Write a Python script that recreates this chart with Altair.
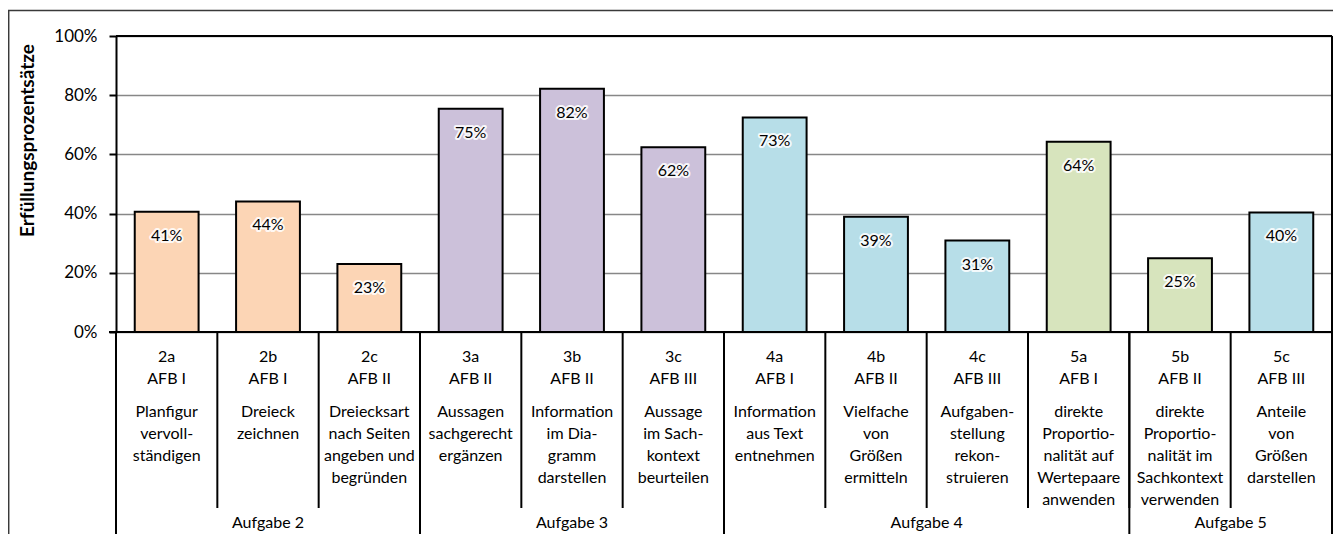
import altair as alt
import pandas as pd

# ---- data ----
codes = ["2a", "2b", "2c", "3a", "3b", "3c", "4a", "4b", "4c", "5a", "5b", "5c"]
afb = ["AFB I", "AFB I", "AFB II", "AFB II", "AFB II", "AFB III",
       "AFB I", "AFB II", "AFB III", "AFB I", "AFB II", "AFB III"]
beschreibung = [
    "Planfigur\nvervoll-\nständigen",
    "Dreieck\nzeichnen",
    "Dreiecksart\nnach Seiten\nangeben und\nbegründen",
    "Aussagen\nsachgerecht\nergänzen",
    "Information\nim Dia-\ngramm\ndarstellen",
    "Aussage\nim Sach-\nkontext\nbeurteilen",
    "Information\naus Text\nentnehmen",
    "Vielfache\nvon\nGrößen\nermitteln",
    "Aufgaben-\nstellung\nrekon-\nstruieren",
    "direkte\nProportio-\nnalität auf\nWertepaare\nanwenden",
    "direkte\nProportio-\nnalität im\nSachkontext\nverwenden",
    "Anteile\nvon\nGrößen\ndarstellen",
]
werte = [0.406, 0.441, 0.230, 0.754, 0.822, 0.624, 0.725, 0.389, 0.309, 0.643, 0.249, 0.404]
farbklasse = ["A", "A", "A", "B", "B", "B", "C", "C", "C", "D", "D", "C"]
farb_domain = ["A", "B", "C", "D"]
farb_range = ["#FCD5B5", "#CCC1DA", "#B7DEE8", "#D7E4BD"]

aufgaben = ["Aufgabe 2", "Aufgabe 3", "Aufgabe 4", "Aufgabe 5"]
aufgabe_start = [0, 3, 6, 10]
aufgabe_ende = [3, 6, 10, 12]

y_ticks = [0, 0.2, 0.4, 0.6, 0.8, 1.0]

# ---- tables ----
df = pd.DataFrame({
    "i": list(range(len(codes))),
    "code": codes,
    "afb": afb,
    "beschreibung": beschreibung,
    "wert": werte,
    "farbe": farbklasse,
})
df["kopf"] = df["code"] + "\n" + df["afb"]

grp = pd.DataFrame({"aufgabe": aufgaben, "start": aufgabe_start, "ende": aufgabe_ende})
grenzen = pd.DataFrame({"g": aufgabe_start + [aufgabe_ende[-1]]})
kat_grenzen = pd.DataFrame({"k": list(range(1, len(codes)))})
one = pd.DataFrame({"a": [0]})

W, H = 1216, 296
LEFT, TOP, RIGHT, BOTTOM = 108, 28, 1, 202
FONT = "Lato"
FS = 16

xscale = alt.Scale(domain=[0, len(codes)], nice=False, zero=False)
yscale = alt.Scale(domain=[0, 1], nice=False)

base = alt.Chart(df).transform_calculate(
    x0="datum.i + 0.185", x1="datum.i + 0.815", xm="datum.i + 0.5"
)

bars = base.mark_bar(stroke="black", strokeWidth=2).encode(
    x=alt.X("x0:Q", scale=xscale, axis=None),
    x2="x1:Q",
    y=alt.Y("wert:Q", scale=yscale,
            axis=alt.Axis(values=y_ticks, format=".0%", title="Erfüllungsprozentsätze",
                          grid=True, gridColor="#878787", gridWidth=1.5,
                          domainColor="black", domainWidth=2,
                          tickColor="black", tickWidth=2, tickSize=7,
                          labelPadding=12, labelFont=FONT, labelFontSize=17,
                          labelColor="black",
                          titleFont=FONT, titleFontSize=19, titleFontWeight="bold",
                          titleColor="black", titleAngle=270, titleX=-89, titleY=104,
                          titleAlign="center", titleBaseline="middle")),
    y2=alt.datum(0),
    color=alt.Color("farbe:N", scale=alt.Scale(domain=farb_domain, range=farb_range),
                    legend=None),
)

glow = base.mark_text(font=FONT, fontSize=FS, baseline="alphabetic", dy=29,
                      fill="white", stroke="white", strokeWidth=4,
                      strokeOpacity=0.85, strokeJoin="round").encode(
    x=alt.X("xm:Q", scale=xscale),
    y=alt.Y("wert:Q", scale=yscale),
    text=alt.Text("wert:Q", format=".0%"),
)
labels = base.mark_text(font=FONT, fontSize=FS, baseline="alphabetic", dy=29,
                        color="black").encode(
    x=alt.X("xm:Q", scale=xscale),
    y=alt.Y("wert:Q", scale=yscale),
    text=alt.Text("wert:Q", format=".0%"),
)

kopf = base.mark_text(font=FONT, fontSize=FS, baseline="alphabetic", lineBreak="\n",
                      lineHeight=21.5, color="black").encode(
    x=alt.X("xm:Q", scale=xscale),
    y=alt.value(326),
    text="kopf:N",
)
desc = base.mark_text(font=FONT, fontSize=FS, baseline="alphabetic", lineBreak="\n",
                      lineHeight=22, color="black").encode(
    x=alt.X("xm:Q", scale=xscale),
    y=alt.value(381),
    text="beschreibung:N",
)

grp_text = alt.Chart(grp).transform_calculate(
    xm="(datum.start + datum.ende) / 2"
).mark_text(font=FONT, fontSize=FS, baseline="alphabetic", color="black").encode(
    x=alt.X("xm:Q", scale=xscale),
    y=alt.value(H + BOTTOM - 6),
    text="aufgabe:N",
)

kat_lines = alt.Chart(kat_grenzen).mark_rule(color="black", strokeWidth=2).encode(
    x=alt.X("k:Q", scale=xscale),
    y=alt.value(H),
    y2=alt.value(472),
)
grp_lines = alt.Chart(grenzen).mark_rule(color="black", strokeWidth=2).encode(
    x=alt.X("g:Q", scale=xscale),
    y=alt.value(H),
    y2=alt.value(H + BOTTOM + 2),
)

x_axis_line = alt.Chart(one).mark_rule(color="black", strokeWidth=2).encode(
    y=alt.datum(0), x=alt.value(-7), x2=alt.value(W)
)
top_line = alt.Chart(one).mark_rule(color="black", strokeWidth=2).encode(
    y=alt.datum(1), x=alt.value(0), x2=alt.value(W)
)
right_line = alt.Chart(one).mark_rule(color="black", strokeWidth=2).encode(
    x=alt.value(W), y=alt.value(0), y2=alt.value(H + BOTTOM + 2)
)
outer_top = alt.Chart(one).mark_rule(color="#3a3a3a", strokeWidth=1.5).encode(
    y=alt.value(-25.5), x=alt.value(-LEFT), x2=alt.value(W + RIGHT)
)
outer_left = alt.Chart(one).mark_rule(color="#3a3a3a", strokeWidth=1.5).encode(
    x=alt.value(-107.3), y=alt.value(-25.5), y2=alt.value(H + BOTTOM + 2)
)

chart = alt.layer(
    bars, glow, labels, kopf, desc, grp_text, kat_lines, grp_lines,
    x_axis_line, top_line, right_line, outer_top, outer_left
).properties(
    width=W, height=H,
    padding={"left": LEFT, "top": TOP, "right": RIGHT, "bottom": BOTTOM},
    autosize=alt.AutoSizeParams(type="none"),
).configure_view(stroke=None).configure(background="white")

chart.save("out.html", embed_options={"renderer": "svg", "actions": False})
